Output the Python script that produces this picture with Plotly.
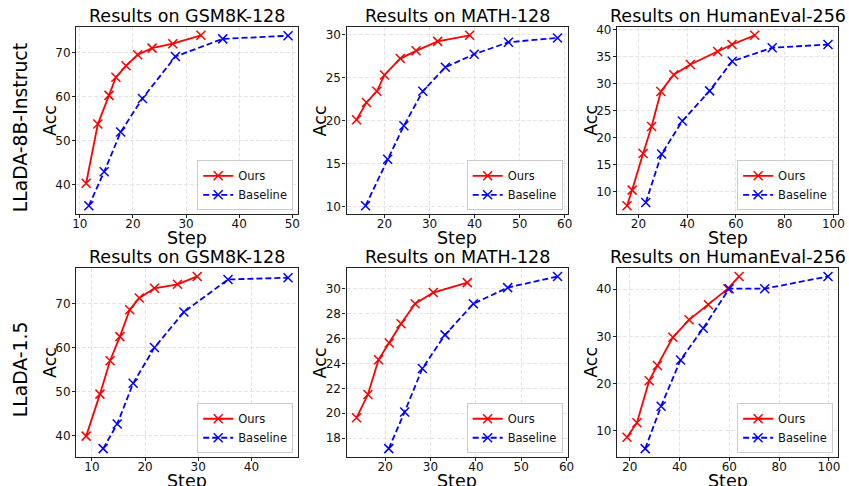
import plotly.graph_objects as go

W, H = 849, 486

# ---------------- data ----------------
titles = ["Results on GSM8K-128", "Results on MATH-128", "Results on HumanEval-256",
          "Results on GSM8K-128", "Results on MATH-128", "Results on HumanEval-256"]
row_labels = ["LLaDA-8B-Instruct", "LLaDA-1.5"]

ours_x_1 = [11.2, 13.4, 15.5, 16.8, 18.7, 20.9, 23.6, 27.5, 32.8]
ours_y_1 = [40.4, 53.8, 60.3, 64.4, 67.0, 69.5, 71.0, 72.0, 73.9]
base_x_1 = [11.7, 14.6, 17.7, 21.8, 28.0, 36.9, 49.2]
base_y_1 = [35.3, 43.0, 52.0, 59.6, 69.1, 73.1, 73.8]

ours_x_2 = [13.8, 16.0, 18.3, 20.0, 23.5, 27.0, 31.8, 38.9]
ours_y_2 = [20.1, 22.1, 23.4, 25.3, 27.2, 28.1, 29.2, 29.9]
base_x_2 = [15.8, 20.7, 24.3, 28.5, 33.5, 39.9, 47.5, 58.4]
base_y_2 = [10.1, 15.5, 19.4, 23.4, 26.2, 27.7, 29.1, 29.6]

ours_x_3 = [15.3, 17.4, 21.9, 25.4, 29.2, 34.5, 41.3, 52.5, 58.4, 67.7]
ours_y_3 = [7.4, 10.3, 17.1, 22.1, 28.6, 31.7, 33.6, 36.0, 37.3, 39.0]
base_x_3 = [23.0, 29.5, 38.0, 49.2, 58.5, 74.9, 97.8]
base_y_3 = [8.0, 17.0, 23.1, 28.7, 34.2, 36.7, 37.3]

ours_x_4 = [8.9, 11.5, 13.4, 15.25, 17.1, 18.9, 21.75, 26.1, 29.8]
ours_y_4 = [39.85, 49.4, 57.0, 62.5, 68.6, 71.3, 73.5, 74.4, 76.2]
base_x_4 = [12.1, 14.75, 17.75, 21.75, 27.3, 35.6, 46.9]
base_y_4 = [37.0, 42.6, 51.9, 60.0, 68.1, 75.5, 75.9]

ours_x_5 = [13.7, 16.2, 18.55, 20.9, 23.5, 26.6, 30.6, 38.1]
ours_y_5 = [19.64, 21.5, 24.3, 25.65, 27.2, 28.8, 29.7, 30.5]
base_x_5 = [20.8, 24.3, 28.2, 33.2, 39.45, 47.0, 58.0]
base_y_5 = [17.15, 20.1, 23.6, 26.3, 28.8, 30.1, 31.0]

ours_x_6 = [18.9, 22.9, 27.8, 31.1, 37.3, 43.8, 51.6, 59.4, 63.9]
ours_y_6 = [8.6, 11.7, 20.6, 23.8, 29.8, 33.5, 36.7, 40.1, 42.7]
base_x_6 = [26.2, 32.6, 40.4, 49.5, 59.9, 74.2, 99.6]
base_y_6 = [6.2, 15.2, 25.0, 31.7, 40.1, 40.1, 42.7]

xticks = [[10, 20, 30, 40, 50], [20, 30, 40, 50, 60], [20, 40, 60, 80, 100],
          [10, 20, 30, 40], [20, 30, 40, 50, 60], [20, 40, 60, 80, 100]]
yticks = [[40, 50, 60, 70], [10, 15, 20, 25, 30], [10, 15, 20, 25, 30, 35, 40],
          [40, 50, 60, 70], [18, 20, 22, 24, 26, 28, 30], [10, 20, 30, 40]]

series = [
    (ours_x_1, ours_y_1, base_x_1, base_y_1),
    (ours_x_2, ours_y_2, base_x_2, base_y_2),
    (ours_x_3, ours_y_3, base_x_3, base_y_3),
    (ours_x_4, ours_y_4, base_x_4, base_y_4),
    (ours_x_5, ours_y_5, base_x_5, base_y_5),
    (ours_x_6, ours_y_6, base_x_6, base_y_6),
]

# ---------------- layout geometry (pixels) ----------------
col_px = [(73, 298), (347, 571), (621, 845)]
row_px = [(23, 212), (266, 457)]

FONT = "DejaVu Sans"
fig = go.Figure()
layout = dict(width=W, height=H, margin=dict(l=0, r=0, t=0, b=0),
              plot_bgcolor="white", paper_bgcolor="white",
              font=dict(family=FONT, color="black"), showlegend=True)
annotations = []


def px2x(p):
    return p / W


def px2y(p):
    return 1 - p / H


def padded(vals):
    lo, hi = min(vals), max(vals)
    m = (hi - lo) * 0.05
    return [lo - m, hi + m]


for i, (ox, oy, bx, by) in enumerate(series):
    r, c = divmod(i, 3)
    x0, x1 = col_px[c]
    y0, y1 = row_px[r]
    sfx = "" if i == 0 else str(i + 1)
    xa, ya = "x" + sfx, "y" + sfx
    lg = "legend" + sfx
    common_ax = dict(showline=True, mirror=True, linecolor="#222222", linewidth=1.2,
                     ticks="outside", ticklen=3, tickwidth=1, tickcolor="#222222",
                     showgrid=True, gridcolor="#e4e4e4", griddash="4px,2px", gridwidth=0.8,
                     zeroline=False, tickfont=dict(size=12, family=FONT, color="#111111"))
    layout["xaxis" + sfx] = dict(domain=[px2x(x0), px2x(x1)], anchor=ya,
                                 range=padded(ox + bx), tickvals=xticks[i],
                                 ticklabelstandoff=-5, **common_ax)
    layout["yaxis" + sfx] = dict(domain=[px2y(y1), px2y(y0)], anchor=xa,
                                 range=padded(oy + by), tickvals=yticks[i],
                                 ticklabelstandoff=-1, **common_ax)
    layout[lg] = dict(x=px2x(x1 - 5), y=px2y(y1 - 4), xanchor="right", yanchor="bottom",
                      bgcolor="rgba(255,255,255,0.85)", bordercolor="#cccccc", borderwidth=1,
                      font=dict(size=11.5, family=FONT, color="#111111"), itemwidth=30,
                      tracegroupgap=0)
    fig.add_trace(go.Scatter(x=ox, y=oy, mode="lines+markers", name="Ours",
                             xaxis=xa, yaxis=ya, legend=lg,
                             line=dict(color="red", width=1.8),
                             marker=dict(symbol="x-thin", size=9, color="red",
                                         line=dict(color="red", width=1.5))))
    fig.add_trace(go.Scatter(x=bx, y=by, mode="lines+markers", name="Baseline",
                             xaxis=xa, yaxis=ya, legend=lg,
                             line=dict(color="blue", width=1.8, dash="6px,3px"),
                             marker=dict(symbol="x-thin", size=9, color="blue",
                                         line=dict(color="blue", width=1.5))))
    # title
    annotations.append(dict(text=titles[i], x=px2x((x0 + x1) / 2), y=px2y(y0 - 11),
                            xref="paper", yref="paper", showarrow=False,
                            xanchor="center", yanchor="middle",
                            font=dict(size=17.5, family=FONT, color="black")))
    # axis titles
    annotations.append(dict(text="Step", x=px2x((x0 + x1) / 2), y=px2y(y1 + 24),
                            xref="paper", yref="paper", showarrow=False,
                            xanchor="center", yanchor="middle",
                            font=dict(size=17.5, family=FONT, color="black")))
    annotations.append(dict(text="Acc", x=px2x(x0 - 27), y=px2y((y0 + y1) / 2),
                            xref="paper", yref="paper", showarrow=False, textangle=-90,
                            xanchor="center", yanchor="middle",
                            font=dict(size=17.5, family=FONT, color="black")))

# row labels
for r, lab in enumerate(row_labels):
    y0, y1 = row_px[r]
    annotations.append(dict(text=lab, x=px2x(17), y=px2y((y0 + y1) / 2 + 7),
                            xref="paper", yref="paper", showarrow=False, textangle=-90,
                            xanchor="center", yanchor="middle",
                            font=dict(size=18.8, family=FONT, color="black")))

layout["annotations"] = annotations
fig.update_layout(**layout)
fig.write_html("out.html")
